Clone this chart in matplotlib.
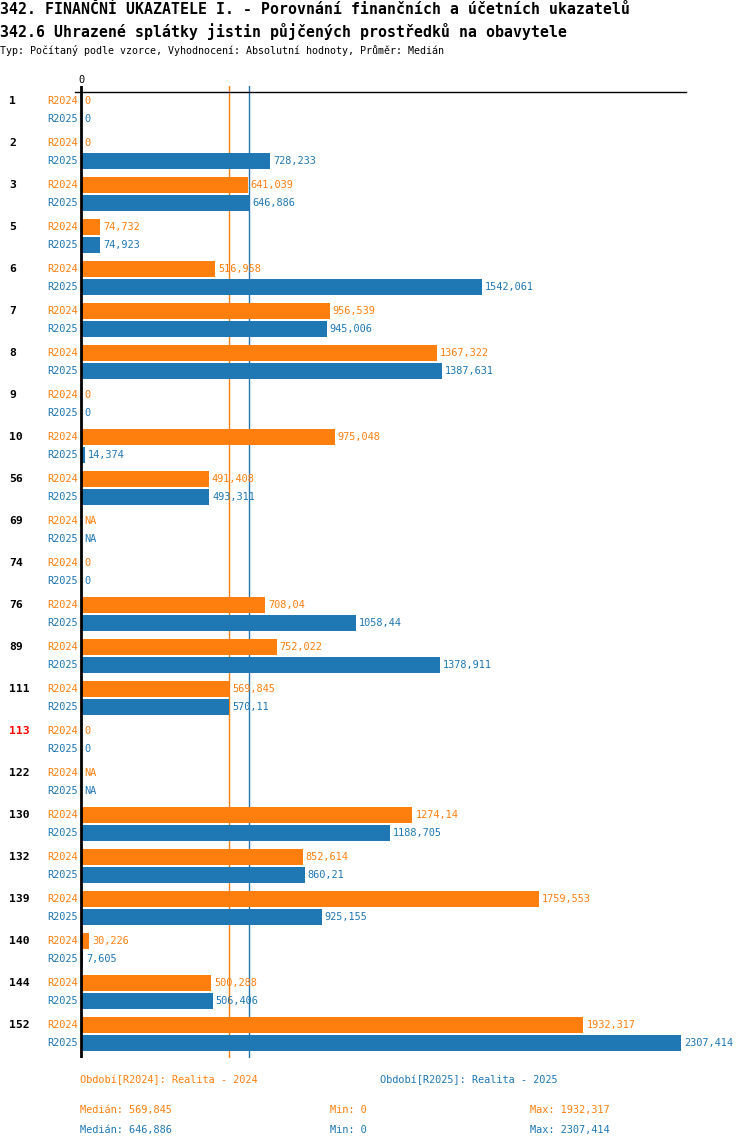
import matplotlib
matplotlib.use("Agg")
import matplotlib.pyplot as plt
import numpy as np

categories = ["1", "2", "3", "5", "6", "7", "8", "9", "10", "56", "69", "74", "76",
              "89", "111", "113", "122", "130", "132", "139", "140", "144", "152"]
r2024 = [0, 0, 641.039, 74.732, 516.958, 956.539, 1367.322, 0, 975.048, 491.408, None, 0,
         708.04, 752.022, 569.845, 0, None, 1274.14, 852.614, 1759.553, 30.226, 500.288, 1932.317]
r2025 = [0, 728.233, 646.886, 74.923, 1542.061, 945.006, 1387.631, 0, 14.374, 493.311, None, 0,
         1058.44, 1378.911, 570.11, 0, None, 1188.705, 860.21, 925.155, 7.605, 506.406, 2307.414]
series_names = ["R2024", "R2025"]
highlight = ["113"]

title1 = "342. FINANČNÍ UKAZATELE I. - Porovnání finančních a účetních ukazatelů"
title2 = "342.6 Uhrazené splátky jistin půjčených prostředků na obavytele"
title3 = "Typ: Počítaný podle vzorce, Vyhodnocení: Absolutní hodnoty, Průměr: Medián"
legend_names = ["Období[R2024]: Realita - 2024", "Období[R2025]: Realita - 2025"]

ORANGE = "#ff7f0e"
BLUE = "#1f77b4"
colors = [ORANGE, BLUE]
FONT = "DejaVu Sans Mono"


def fmt(v):
    if v is None:
        return "NA"
    s = f"{v:.3f}".rstrip("0").rstrip(".")
    return s.replace(".", ",")


W, H = 750, 1148
fig = plt.figure(figsize=(W / 100, H / 100), dpi=100)

# axes in pixel coordinates
ax_l, ax_r, ax_t, ax_b = 75, 686, 86, 1058
ax = fig.add_axes([ax_l / W, (H - ax_b) / H, (ax_r - ax_l) / W, (ax_b - ax_t) / H])
k = 600 / 2307.414  # px per unit
x0px = 81
ax.set_xlim(-(x0px - ax_l) / k, (ax_r - x0px) / k)
ax.set_ylim(ax_b - 101, ax_t - 101)
ax.axis("off")

pitch = 42
sub = 18
vals = [r2024, r2025]

# medians
med = []
for s in vals:
    arr = np.array([v for v in s if v is not None])
    med.append(np.median(arr))
for m, c in zip(med, colors):
    ax.axvline(m, color=c, lw=1, zorder=1)

for i, cat in enumerate(categories):
    for j in range(2):
        y = i * pitch + j * sub
        v = vals[j][i]
        if v is not None and v > 0:
            ax.barh(y, v, height=16, color=colors[j], zorder=2, linewidth=0)
        xend = v if v is not None else 0
        ax.annotate(fmt(v), (xend, y), xytext=(3, 0), textcoords="offset pixels",
                    ha="left", va="center", color=colors[j], fontsize=7.4, family=FONT, zorder=4)
        fig.text(78 / W, 1 - (101 + y) / H, series_names[j], ha="right", va="center",
                 color=colors[j], fontsize=7.4, family=FONT)
    fig.text(9 / W, 1 - (101 + i * pitch) / H, cat, ha="left", va="center",
             color="red" if cat in highlight else "black", fontsize=8.2,
             fontweight="bold", family=FONT)

# zero line and top line
ax.axvline(0, color="black", lw=2, zorder=3)
ax.plot([ax.get_xlim()[0], ax.get_xlim()[1]], [-9, -9], color="black", lw=1, zorder=3,
        clip_on=False)
fig.text(81 / W, 1 - 80 / H, "0", ha="center", va="center", fontsize=7.4, family=FONT)

# titles
fig.text(0 / W, 1 - 9 / H, title1, ha="left", va="center", fontsize=10.7,
         fontweight="bold", family=FONT)
fig.text(0 / W, 1 - 31 / H, title2, ha="left", va="center", fontsize=10.7,
         fontweight="bold", family=FONT)
fig.text(0 / W, 1 - 50 / H, title3, ha="left", va="center", fontsize=7.2, family=FONT)

# footer
fig.text(80 / W, 1 - 1080 / H, legend_names[0], ha="left", va="center", color=ORANGE,
         fontsize=7.4, family=FONT)
fig.text(380 / W, 1 - 1080 / H, legend_names[1], ha="left", va="center", color=BLUE,
         fontsize=7.4, family=FONT)
for j, yy in enumerate([1110, 1130]):
    arr = [v for v in vals[j] if v is not None]
    fig.text(80 / W, 1 - yy / H, "Medián: " + fmt(med[j]), ha="left", va="center",
             color=colors[j], fontsize=7.4, family=FONT)
    fig.text(330 / W, 1 - yy / H, "Min: " + fmt(min(arr)), ha="left", va="center",
             color=colors[j], fontsize=7.4, family=FONT)
    fig.text(530 / W, 1 - yy / H, "Max: " + fmt(max(arr)), ha="left", va="center",
             color=colors[j], fontsize=7.4, family=FONT)

fig.savefig("out.png", dpi=100)
